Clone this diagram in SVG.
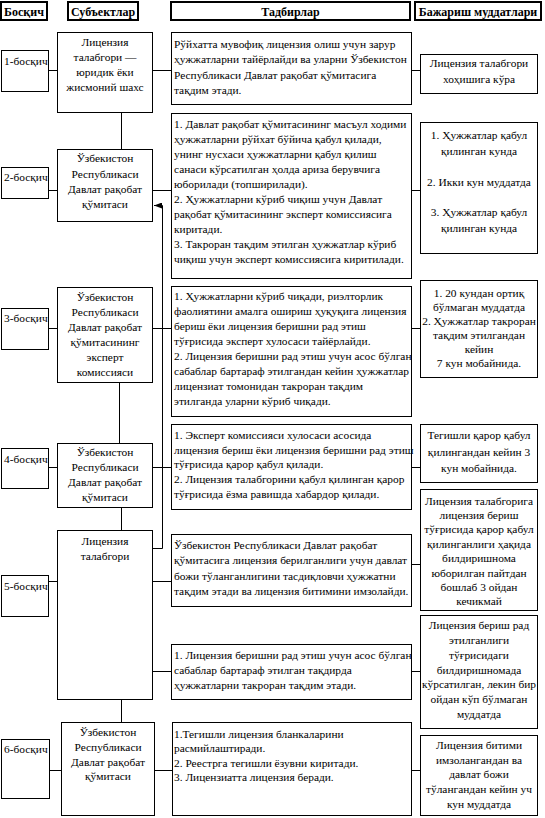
<svg xmlns="http://www.w3.org/2000/svg" width="545" height="818" viewBox="0 0 545 818">
<style>
.bx{fill:#fff;stroke:#000;stroke-width:1}
.hb{fill:#fff;stroke:#000;stroke-width:2}
.t{font-family:"Liberation Serif","Times New Roman",serif;font-size:11.4px;fill:#000}
.c{text-anchor:middle}
.b{font-weight:bold;font-size:12px}
.ln{fill:none;stroke:#000;stroke-width:1}
</style>
<defs>
<marker id="arr" viewBox="0 0 8 6" refX="8" refY="3" markerWidth="8" markerHeight="6" markerUnits="userSpaceOnUse" orient="auto">
<path d="M0,0 L8,3 L0,6 Z" fill="#000"/>
</marker>
</defs>
<rect width="545" height="818" fill="#fff"/>
<g id="connectors">
<path class="ln" d="M121.5,112.5V149.5 M119.5,382.5V443.5 M121.5,507.5V530.5 M121.5,699.5V722.5"/>
<path class="ln" d="M48.5,70.5H57.5 M152.5,70.5H171.5 M411.5,70.5H420.5"/>
<path class="ln" d="M48.5,190.5H57.5 M152.5,190.5H171.5 M411.5,190.5H420.5"/>
<path class="ln" d="M48.5,328.5H57.5 M152.5,328.5H171.5 M411.5,328.5H420.5"/>
<path class="ln" d="M48.5,467.5H57.5 M152.5,467.5H171.5 M411.5,467.5H420.5"/>
<path class="ln" d="M48.5,581.5H57.5 M152.5,581.5H171.5 M411.5,564.5H420.5"/>
<path class="ln" d="M152.5,671.5H171.5 M411.5,671.5H420.5"/>
<path class="ln" d="M49.5,770.5H61.5 M154.5,770.5H172.5 M411.5,770.5H420.5"/>
<path class="ln" d="M152.5,548.5H162.5V205.5H154" marker-end="url(#arr)"/>
</g>
<g id="header">
<rect class="hb" x="1" y="2" width="46" height="18"/>
<text class="t c b" x="24" y="15.5">Босқич</text>
<rect class="hb" x="68" y="2" width="70" height="18"/>
<text class="t c b" x="103" y="15.5">Субъектлар</text>
<rect class="hb" x="171" y="2" width="239" height="18"/>
<text class="t c b" x="290.5" y="15.5">Тадбирлар</text>
<rect class="hb" x="415" y="2" width="126" height="18"/>
<text class="t c b" x="478" y="15.5">Бажариш муддатлари</text>
</g>
<g id="stage1"><rect class="bx" x="1.5" y="50.5" width="47" height="41"/><text class="t" x="4" y="65">1-босқич</text></g>
<g id="stage2"><rect class="bx" x="1.5" y="167.5" width="47" height="31"/><text class="t" x="4" y="181">2-босқич</text></g>
<g id="stage3"><rect class="bx" x="1.5" y="308.5" width="47" height="41"/><text class="t" x="4" y="322">3-босқич</text></g>
<g id="stage4"><rect class="bx" x="1.5" y="448.5" width="47" height="40"/><text class="t" x="4" y="463">4-босқич</text></g>
<g id="stage5"><rect class="bx" x="1.5" y="575.5" width="47" height="41"/><text class="t" x="4" y="590">5-босқич</text></g>
<g id="stage6"><rect class="bx" x="1.5" y="739.5" width="48" height="59"/><text class="t" x="4" y="753">6-босқич</text></g>

<g id="subject1"><rect class="bx" x="57.5" y="32.5" width="95" height="80"/>
<text class="t c" x="105"><tspan x="105" y="46">Лицензия</tspan><tspan x="105" y="61">талабгори —</tspan><tspan x="105" y="76">юридик ёки</tspan><tspan x="105" y="91">жисмоний шахс</tspan></text></g>
<g id="subject2"><rect class="bx" x="57.5" y="149.5" width="95" height="72"/>
<text class="t c"><tspan x="105" y="162">Ўзбекистон</tspan><tspan x="105" y="178">Республикаси</tspan><tspan x="105" y="193">Давлат рақобат</tspan><tspan x="105" y="208">қўмитаси</tspan></text></g>
<g id="subject3"><rect class="bx" x="57.5" y="287.5" width="95" height="95"/>
<text class="t c"><tspan x="105" y="301">Ўзбекистон</tspan><tspan x="105" y="316">Республикаси</tspan><tspan x="105" y="331">Давлат рақобат</tspan><tspan x="105" y="346">қўмитасининг</tspan><tspan x="105" y="361">эксперт</tspan><tspan x="105" y="376">комиссияси</tspan></text></g>
<g id="subject4"><rect class="bx" x="57.5" y="443.5" width="95" height="64"/>
<text class="t c"><tspan x="105" y="456">Ўзбекистон</tspan><tspan x="105" y="471">Республикаси</tspan><tspan x="105" y="486">Давлат рақобат</tspan><tspan x="105" y="501">қўмитаси</tspan></text></g>
<g id="subject5"><rect class="bx" x="57.5" y="530.5" width="95" height="169"/>
<text class="t c"><tspan x="105" y="545">Лицензия</tspan><tspan x="105" y="560">талабгори</tspan></text></g>
<g id="subject6"><rect class="bx" x="61.5" y="722.5" width="93" height="93"/>
<text class="t c"><tspan x="108" y="736">Ўзбекистон</tspan><tspan x="108" y="751">Республикаси</tspan><tspan x="108" y="766">Давлат рақобат</tspan><tspan x="108" y="780">қўмитаси</tspan></text></g>

<g id="action1"><rect class="bx" x="171.5" y="32.5" width="240" height="72"/>
<text class="t"><tspan x="174" y="48">Рўйхатта мувофиқ лицензия олиш учун зарур</tspan><tspan x="174" y="63">ҳужжатларни тайёрлайди ва уларни Ўзбекистон</tspan><tspan x="174" y="79">Республикаси Давлат рақобат қўмитасига</tspan><tspan x="174" y="94">тақдим этади.</tspan></text></g>
<g id="action2"><rect class="bx" x="171.5" y="113.5" width="240" height="165"/>
<text class="t"><tspan x="174" y="128">1. Давлат рақобат қўмитасининг масъул ходими</tspan><tspan x="174" y="143">ҳужжатларни рўйхат бўйича қабул қилади,</tspan><tspan x="174" y="158">унинг нусхаси ҳужжатларни қабул қилиш</tspan><tspan x="174" y="173">санаси кўрсатилган ҳолда ариза берувчига</tspan><tspan x="174" y="188">юборилади (топширилади).</tspan><tspan x="174" y="203">2. Ҳужжатларни кўриб чиқиш учун Давлат</tspan><tspan x="174" y="218">рақобат қўмитасининг эксперт комиссиясига</tspan><tspan x="174" y="233">киритади.</tspan><tspan x="174" y="248">3. Такроран тақдим этилган ҳужжатлар кўриб</tspan><tspan x="174" y="263">чиқиш учун эксперт комиссиясига киритилади.</tspan></text></g>
<g id="action3"><rect class="bx" x="171.5" y="286.5" width="240" height="130"/>
<text class="t"><tspan x="174" y="300">1. Ҳужжатларни кўриб чиқади, риэлторлик</tspan><tspan x="174" y="315">фаолиятини амалга ошириш ҳуқуқига лицензия</tspan><tspan x="174" y="330">бериш ёки лицензия беришни рад этиш</tspan><tspan x="174" y="345">тўғрисида эксперт хулосаси тайёрлайди.</tspan><tspan x="174" y="360">2. Лицензия беришни рад этиш учун асос бўлган</tspan><tspan x="174" y="375">сабаблар бартараф этилгандан кейин ҳужжатлар</tspan><tspan x="174" y="390">лицензиат томонидан такроран тақдим</tspan><tspan x="174" y="405">этилганда уларни кўриб чиқади.</tspan></text></g>
<g id="action4"><rect class="bx" x="171.5" y="424.5" width="240" height="85"/>
<text class="t"><tspan x="174" y="439">1. Эксперт комиссияси хулосаси асосида</tspan><tspan x="174" y="453.5">лицензия бериш ёки лицензия беришни рад этиш</tspan><tspan x="174" y="468">тўғрисида қарор қабул қилади.</tspan><tspan x="174" y="483">2. Лицензия талабгорини қабул қилинган қарор</tspan><tspan x="174" y="498">тўғрисида ёзма равишда хабардор қилади.</tspan></text></g>
<g id="action5"><rect class="bx" x="171.5" y="534.5" width="240" height="72"/>
<text class="t"><tspan x="174" y="549">Ўзбекистон Республикаси Давлат рақобат</tspan><tspan x="174" y="564">қўмитасига лицензия берилганлиги учун давлат</tspan><tspan x="174" y="580">божи тўланганлигини тасдиқловчи ҳужжатни</tspan><tspan x="174" y="595">тақдим этади ва лицензия битимини имзолайди.</tspan></text></g>
<g id="action5b"><rect class="bx" x="171.5" y="644.5" width="240" height="55"/>
<text class="t"><tspan x="174" y="659">1. Лицензия беришни рад этиш учун асос бўлган</tspan><tspan x="174" y="674">сабаблар бартараф этилган тақдирда</tspan><tspan x="174" y="689">ҳужжатларни такроран тақдим этади.</tspan></text></g>
<g id="action6"><rect class="bx" x="172.5" y="722.5" width="239" height="93"/>
<text class="t"><tspan x="174" y="738">1.Тегишли лицензия бланкаларини</tspan><tspan x="174" y="752">расмийлаштиради.</tspan><tspan x="174" y="767">2. Реестрга тегишли ёзувни киритади.</tspan><tspan x="174" y="781">3. Лицензиатта лицензия беради.</tspan></text></g>

<g id="term1"><rect class="bx" x="420.5" y="54.5" width="117" height="39"/>
<text class="t c"><tspan x="479" y="67">Лицензия талабгори</tspan><tspan x="479" y="83">хоҳишига кўра</tspan></text></g>
<g id="term2"><rect class="bx" x="420.5" y="122.5" width="117" height="131"/>
<text class="t c"><tspan x="479" y="139">1. Ҳужжатлар қабул</tspan><tspan x="479" y="155">қилинган кунда</tspan><tspan x="479" y="186">2. Икки кун муддатда</tspan><tspan x="479" y="216">3. Ҳужжатлар қабул</tspan><tspan x="479" y="232">қилинган кунда</tspan></text></g>
<g id="term3"><rect class="bx" x="420.5" y="280.5" width="117" height="97"/>
<text class="t c"><tspan x="479" y="297">1. 20 кундан ортиқ</tspan><tspan x="479" y="311">бўлмаган муддатда</tspan><tspan x="479" y="325">2. Ҳужжатлар такроран</tspan><tspan x="479" y="339">тақдим этилгандан</tspan><tspan x="479" y="353">кейин</tspan><tspan x="479" y="367">7 кун мобайнида.</tspan></text></g>
<g id="term4"><rect class="bx" x="420.5" y="424.5" width="117" height="58"/>
<text class="t c"><tspan x="479" y="439">Тегишли қарор қабул</tspan><tspan x="479" y="456">қилингандан кейин 3</tspan><tspan x="479" y="472">кун мобайнида.</tspan></text></g>
<g id="term5"><rect class="bx" x="420.5" y="489.5" width="117" height="121"/>
<text class="t c"><tspan x="479" y="505">Лицензия талабгорига</tspan><tspan x="479" y="519">лицензия бериш</tspan><tspan x="479" y="533">тўғрисида қарор қабул</tspan><tspan x="479" y="548">қилинганлиги ҳақида</tspan><tspan x="479" y="562">билдиришнома</tspan><tspan x="479" y="577">юборилган пайтдан</tspan><tspan x="479" y="591">бошлаб 3 ойдан</tspan><tspan x="479" y="605">кечикмай</tspan></text></g>
<g id="term5b"><rect class="bx" x="420.5" y="615.5" width="117" height="113"/>
<text class="t c"><tspan x="479" y="629">Лицензия бериш рад</tspan><tspan x="479" y="644">этилганлиги</tspan><tspan x="479" y="659">тўғрисидаги</tspan><tspan x="479" y="674">билдиришномада</tspan><tspan x="479" y="688">кўрсатилган, лекин бир</tspan><tspan x="479" y="703">ойдан кўп бўлмаган</tspan><tspan x="479" y="718">муддатда</tspan></text></g>
<g id="term6"><rect class="bx" x="420.5" y="735.5" width="117" height="80"/>
<text class="t c"><tspan x="479" y="749">Лицензия битими</tspan><tspan x="479" y="764">имзолангандан ва</tspan><tspan x="479" y="778">давлат божи</tspan><tspan x="479" y="793">тўлангандан кейин уч</tspan><tspan x="479" y="808">кун муддатда</tspan></text></g>
</svg>
